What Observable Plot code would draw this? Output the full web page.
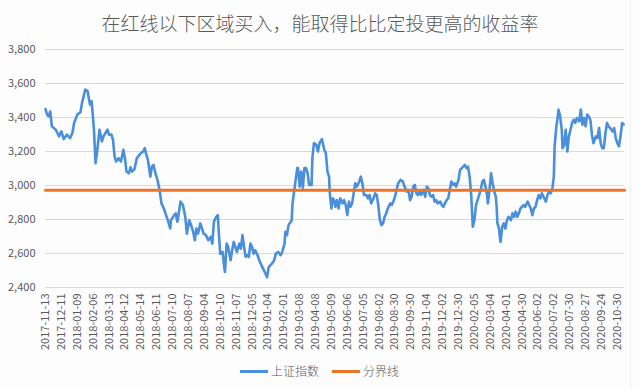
<!DOCTYPE html>
<html>
<head>
<meta charset="utf-8">
<script src="https://cdn.jsdelivr.net/npm/d3@7"></script>
<script src="https://cdn.jsdelivr.net/npm/@observablehq/plot@0.6"></script>
<style>
  html, body { margin: 0; padding: 0; background: #fdfdfe; }
  #wrap { position: relative; width: 640px; height: 389px; overflow: hidden; background: #fdfdfe;
          font-family: "Noto Sans CJK SC", "Noto Sans", sans-serif; color: #595959; }
  #title { position: absolute; left: 0; top: 10px; width: 640px; text-align: center; font-size: 19px; line-height: 26px; color: #595959; font-weight: 300; }
  #chart { position: absolute; left: 0; top: 0; }
  #legend { position: absolute; top: 362px; left: 0; width: 640px; font-size: 12px; line-height: 18px; color: #595959; font-weight: 300; }
  .item { position: absolute; top: 0; white-space: nowrap; }
  .swatch { display: inline-block; width: 28px; height: 3px; vertical-align: middle; margin-right: 3px; position: relative; top: -1px; }
  #edge { position: absolute; left: 630px; top: 0; width: 1px; height: 389px; background: #f0f0f2; }
</style>
</head>
<body>
<div id="wrap">
  <div id="chart"></div>
  <div id="title">在红线以下区域买入，能取得比比定投更高的收益率</div>
  <div id="legend"></div>
  <div id="edge"></div>
</div>
<script>
// ---- data (trading-day index from 2017-11-13, Shanghai Composite close) ----
const seriesName = "上证指数";
const boundaryName = "分界线";
const boundaryValue = 2972;

const days = [
  0,2,4,6,8,13,17,20,23,27,31,34,36,40,44,46,50,53,56,58,59,61,63,65,68,71,73,78,80,83,85,87,89,92,95,98,100,
  102,105,107,109,112,115,120,123,125,127,129,132,134,136,139,141,144,146,149,151,154,157,158,162,164,166,168,170,173,176,178,
  181,184,186,188,190,192,195,197,199,202,205,208,210,212,215,217,218,220,223,225,226,228,230,233,235,237,239,241,244,246,248,250,
  252,254,256,258,260,262,264,267,270,273,276,279,281,285,288,290,293,296,298,301,302,304,306,310,311,313,315,317,318,320,322,324,
  326,328,330,332,335,336,338,341,343,345,348,351,353,355,357,358,360,362,364,
  365,367,369,371,374,376,378,380,382,384,386,388,390,392,395,397,399,401,404,406,408,410,413,415,417,419,421,423,425,427,429,431,
  434,436,438,440,442,444,447,450,452,455,457,459,461,463,465,467,469,471,473,476,478,480,482,484,486,488,490,492,494,497,499,501,
  503,505,507,509,511,513,515,517,520,522,524,526,528,530,532,534,536,538,540,542,544,
  548,550,552,554,556,557,559,561,563,565,567,568,569,571,572,573,575,577,579,581,583,586,588,590,592,594,596,598,600,602,604,607,
  609,611,613,615,617,619,621,623,625,627,630,632,634,636,638,640,641,643,645,646,648,650,651,653,655,657,659,661,663,665,667,669,
  672,674,676,678,680,682,684,686,688,690,693,695,697,699,701,703,705,707,709,711,714,716,718,720,722,724,726,728
];
const values = [
  3450,3417,3407,3436,3348,3328,3289,3318,3273,3299,3279,3312,3368,3417,3431,3486,3565,3555,3476,3496,3446,3328,3131,3200,3328,3259,3289,3328,3299,3299,3269,3170,3141,3161,3141,3210,3161,
  3082,3072,3107,3082,3096,3161,3190,3200,3220,3180,3151,3052,3111,3121,3062,3033,2964,2895,2865,2836,2796,2747,2796,2826,2836,2787,2846,2905,2885,2816,2717,
  2796,2757,2727,2678,2747,2717,2777,2747,2717,2708,2678,2698,2658,2786,2816,2826,2737,2599,2609,2520,2491,2658,2639,2560,2619,2668,2639,2609,2658,2629,2708,2639,
  2580,2590,2580,2658,2639,2599,2619,2590,2550,2520,2491,2460,2520,2540,2560,2599,2609,2590,2609,2658,2727,2708,2767,2796,2895,2964,3033,3102,3102,2993,3082,2984,
  3102,3102,3072,3003,3003,3161,3249,3239,3200,3249,3273,3210,3190,3082,3052,2954,2865,2924,2905,
  2875,2914,2865,2924,2895,2914,2885,2826,2905,2875,2895,2954,3013,2993,3023,3052,3013,2944,2944,2924,2944,2895,2924,2954,2944,2885,2796,2767,2777,2816,2836,2865,
  2895,2885,2905,2934,2974,3013,3033,3023,2993,2964,2974,2914,2934,2993,3003,2954,2944,2964,2944,2974,2934,2993,2984,2944,2934,2944,2905,2914,2895,2905,2885,2875,
  2895,2914,2924,2974,3023,3003,3013,2993,3033,3092,3102,3111,3121,3102,3111,3052,2944,2757,2796,2885,2914,
  2974,3023,3033,2993,2944,2895,2974,3072,3013,2964,2934,2875,2777,2747,2698,2668,2757,2777,2747,2796,2816,2796,2836,2816,2846,2816,2836,2865,2875,2885,2875,2905,
  2885,2865,2826,2865,2875,2914,2944,2924,2954,2934,2905,2944,2964,2954,2974,3052,3230,3338,3407,3446,3407,3328,3220,3239,3328,3200,3289,3328,3368,3387,3368,3397,
  3377,3446,3358,3397,3348,3417,3407,3387,3299,3249,3289,3279,3338,3249,3220,3220,3308,3368,3348,3338,3318,3338,3279,3249,3230,3289,3368,3358
];

const tickDates = [
  "2017-11-13","2017-12-11","2018-01-09","2018-02-06","2018-03-13","2018-04-12","2018-05-14","2018-06-11",
  "2018-07-10","2018-08-07","2018-09-04","2018-10-10","2018-11-07","2018-12-05","2019-01-04","2019-02-01",
  "2019-03-08","2019-04-08","2019-05-09","2019-06-06","2019-07-05","2019-08-02","2019-08-30","2019-09-30",
  "2019-11-04","2019-12-02","2019-12-30","2020-02-05","2020-03-04","2020-04-01","2020-04-30","2020-06-02",
  "2020-07-02","2020-07-30","2020-08-27","2020-09-24","2020-10-30"
];
const tickEvery = 20;      // one date label every 20 trading days
const totalDays = 729;
const yTicks = [2400, 2600, 2800, 3000, 3200, 3400, 3600, 3800];

const blue = "#4a8fdb";
const orange = "#ec7426";

// ---- build ----
const series = days.map((d, i) => ({day: d, value: values[i]}));
const tickDays = tickDates.map((_, i) => i * tickEvery);
const boundary = [{day: 0, value: boundaryValue}, {day: totalDays, value: boundaryValue}];

const chart = Plot.plot({
  width: 640,
  height: 389,
  marginLeft: 45,
  marginRight: 16,
  marginTop: 49,
  marginBottom: 102,
  style: {background: "transparent", fontFamily: "'Noto Sans CJK SC', 'Noto Sans', sans-serif", color: "#595959"},
  x: {domain: [0, totalDays], axis: null},
  y: {domain: [2400, 3800], axis: null},
  marks: [
    Plot.ruleY(yTicks, {stroke: "#d9d9d9", strokeWidth: 1}),
    Plot.axisY({ticks: yTicks, tickFormat: d3.format(","), tickSize: 0, tickPadding: 10, fontSize: 11, fill: "#595959", label: null}),
    Plot.axisX({ticks: tickDays, tickFormat: d => tickDates[d / tickEvery], tickRotate: -90, tickSize: 0, tickPadding: 6, fontSize: 11, fill: "#595959", label: null}),
    Plot.line(series, {x: "day", y: "value", stroke: blue, strokeWidth: 2.6, strokeLinejoin: "round", strokeLinecap: "round"}),
    Plot.line(boundary, {x: "day", y: "value", stroke: orange, strokeWidth: 3})
  ]
});
document.getElementById("chart").appendChild(chart);

// legend
const legend = document.getElementById("legend");
[[seriesName, blue, 240], [boundaryName, orange, 332]].forEach(([name, color, left]) => {
  const item = document.createElement("div");
  item.className = "item";
  item.style.left = left + "px";
  const sw = document.createElement("span");
  sw.className = "swatch";
  sw.style.background = color;
  item.appendChild(sw);
  item.appendChild(document.createTextNode(name));
  legend.appendChild(item);
});
</script>
</body>
</html>
